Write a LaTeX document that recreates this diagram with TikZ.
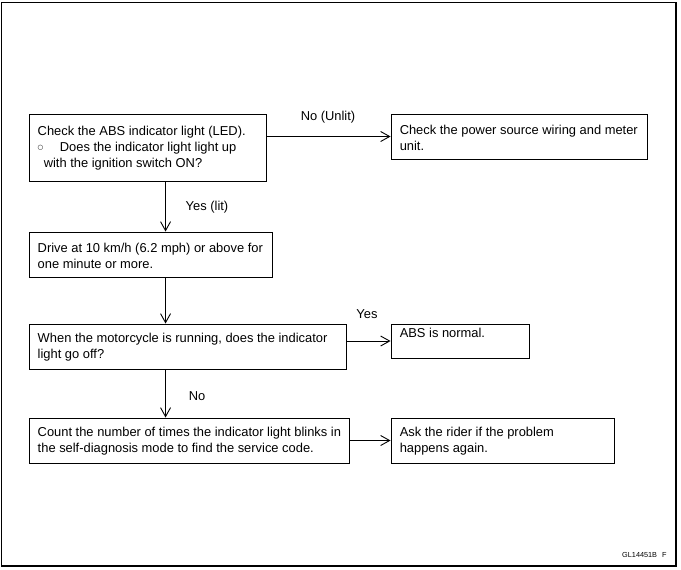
\documentclass[tikz,border=0pt]{standalone}
\usepackage{fontspec}
\setmainfont{Liberation Sans}
\newfontfamily\symfnt{DejaVu Sans}
\usetikzlibrary{arrows.meta,calc}
\begin{document}
\begin{tikzpicture}[x=1pt,y=-1pt,
  font=\fontsize{12.9}{16}\selectfont,
  box/.style args={#1x#2}{draw=black, line width=0.9pt, inner sep=0pt,
    minimum width=#1pt, minimum height=#2pt, anchor=center},
  txt/.style={inner sep=0pt, align=left, anchor=west},
  arr/.style={draw=black, line width=0.9pt, -{Straight Barb[length=9pt,width=10pt,line width=0.9pt]}},
  lbl/.style={inner sep=0pt, anchor=center}]
\useasboundingbox (0,0) rectangle (681,570);
\draw[line width=1.3pt] (1.5,2.5) rectangle (676,566);

\node[box=237x67] (b1) at (147.5,147.5) {};
\node[txt] (t1) at ($(b1.west)+(9,0.5)$) {Check the ABS indicator light (LED).\\
  \raisebox{1.8pt}{\symfnt\fontsize{6.5}{16}\selectfont ○}\hspace{16.5pt}Does the indicator light light up\\
  \hspace*{6pt}with the ignition switch ON?};
\node[box=256x45] (b2) at (519,136.5) {};
\node[txt] (t2) at ($(b2.west)+(9,1)$) {Check the power source wiring and meter\\unit.};
\node[box=243x45] (b3) at (150.5,254.5) {};
\node[txt] (t3) at ($(b3.west)+(9,1)$) {Drive at 10 km/h (6.2 mph) or above for\\one minute or more.};
\node[box=317x45] (b4) at (187.5,346.5) {};
\node[txt] (t4) at ($(b4.west)+(9,1)$) {When the motorcycle is running, does the indicator\\light go off?};
\node[box=138x34] (b5) at (460,341) {};
\node[txt] (t5) at ($(b5.north west)+(9,9.5)$) {ABS is normal.};
\node[box=320x45] (b6) at (189,440.5) {};
\node[txt] (t6) at ($(b6.west)+(9,1)$) {Count the number of times the indicator light blinks in\\the self-diagnosis mode to find the service code.};
\node[box=223x45] (b7) at (502.5,440.5) {};
\node[txt] (t7) at ($(b7.west)+(9,1)$) {Ask the rider if the problem\\happens again.};

\coordinate (v1) at ($(b1.south west)+(137,0)$);
\draw[arr] (b2.west -| b1.east) -- (b2.west);
\draw[arr] (v1) -- (v1 |- b3.north);
\coordinate (v2) at ($(b3.south west)+(137,0)$);
\draw[arr] (v2) -- (v2 |- b4.north);
\draw[arr] (b5.west -| b4.east) -- (b5.west);
\coordinate (v3) at ($(b4.south west)+(137,0)$);
\draw[arr] (v3) -- (v3 |- b6.north);
\draw[arr] (b7.west -| b6.east) -- (b7.west);

\node[lbl] (l1) at (328,117) {No (Unlit)};
\node[lbl] (l2) at (207,207) {Yes (lit)};
\node[lbl] (l3) at (367,314) {Yes};
\node[lbl] (l4) at (197,396) {No};
\node[lbl, anchor=west, font=\fontsize{7.3}{9}\selectfont] (code) at (622,555) {GL14451B\hspace{5pt}F};
\end{tikzpicture}
\end{document}
